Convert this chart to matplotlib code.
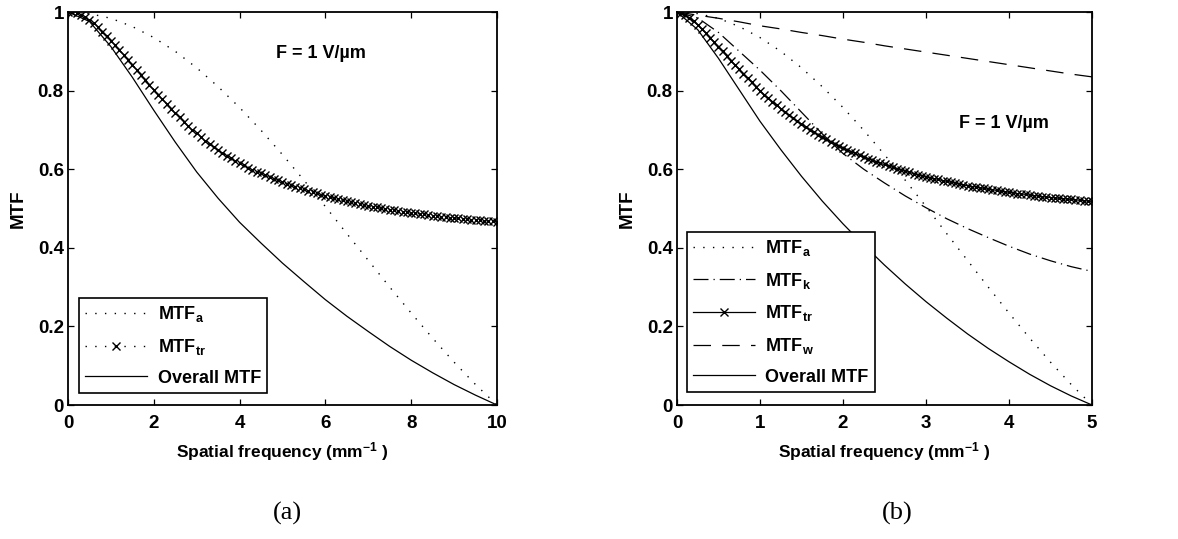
import numpy as np
import matplotlib
matplotlib.use("Agg")
import matplotlib.pyplot as plt

plt.rcParams['font.family'] = ['Liberation Sans', 'DejaVu Sans']
plt.rcParams['font.weight'] = 'bold'
plt.rcParams['axes.labelweight'] = 'bold'
plt.rcParams['mathtext.fontset'] = 'custom'
plt.rcParams['mathtext.rm'] = 'Liberation Sans:bold'
plt.rcParams['mathtext.it'] = 'Liberation Sans:bold'
plt.rcParams['mathtext.bf'] = 'Liberation Sans:bold'

# ---------------- panel (a): F = 1 V/um, 0..10 mm^-1 ----------------
freq_a_fine = np.linspace(0, 10, 101)
mtf_tr_a = [1.000, 0.999, 0.997, 0.993, 0.987, 0.980, 0.971, 0.961, 0.950, 0.938,
            0.927, 0.915, 0.903, 0.891, 0.879, 0.866, 0.853, 0.841, 0.828, 0.815,
            0.802, 0.790, 0.778, 0.766, 0.754, 0.743, 0.732, 0.721, 0.711, 0.701,
            0.691, 0.682, 0.673, 0.665, 0.656, 0.649, 0.641, 0.634, 0.628, 0.621,
            0.615, 0.610, 0.604, 0.599, 0.594, 0.590, 0.585, 0.580, 0.576, 0.572,
            0.567, 0.563, 0.560, 0.556, 0.553, 0.549, 0.545, 0.542, 0.539, 0.535,
            0.532, 0.529, 0.526, 0.524, 0.521, 0.519, 0.516, 0.514, 0.511, 0.509,
            0.507, 0.505, 0.503, 0.501, 0.499, 0.497, 0.496, 0.494, 0.492, 0.491,
            0.489, 0.488, 0.486, 0.485, 0.483, 0.482, 0.481, 0.479, 0.478, 0.477,
            0.476, 0.475, 0.474, 0.473, 0.472, 0.471, 0.470, 0.469, 0.468, 0.467, 0.466]

freq_a = np.linspace(0, 10, 21)
mtf_a_a = [1.000, 0.996, 0.984, 0.963, 0.935, 0.900, 0.858, 0.810, 0.757, 0.699,
           0.637, 0.572, 0.505, 0.436, 0.368, 0.300, 0.234, 0.170, 0.109, 0.052, 0.000]
overall_a = [1.000, 0.976, 0.912, 0.834, 0.750, 0.669, 0.593, 0.526, 0.465, 0.412,
             0.361, 0.314, 0.268, 0.226, 0.187, 0.149, 0.114, 0.082, 0.052, 0.025, 0.000]

# ---------------- panel (b): F = 1 V/um, 0..5 mm^-1 ----------------
freq_b_fine = np.linspace(0, 5, 101)
mtf_tr_b = [1.000, 0.997, 0.992, 0.985, 0.976, 0.967, 0.956, 0.946, 0.934, 0.923,
            0.911, 0.900, 0.888, 0.876, 0.865, 0.854, 0.842, 0.831, 0.821, 0.810,
            0.800, 0.790, 0.781, 0.772, 0.763, 0.754, 0.746, 0.737, 0.730, 0.722,
            0.715, 0.708, 0.701, 0.694, 0.688, 0.682, 0.676, 0.670, 0.665, 0.659,
            0.654, 0.649, 0.645, 0.640, 0.635, 0.631, 0.627, 0.623, 0.619, 0.615,
            0.612, 0.608, 0.605, 0.601, 0.598, 0.595, 0.592, 0.589, 0.586, 0.584,
            0.581, 0.578, 0.576, 0.574, 0.571, 0.569, 0.567, 0.565, 0.562, 0.560,
            0.558, 0.556, 0.555, 0.553, 0.551, 0.549, 0.548, 0.546, 0.544, 0.543,
            0.541, 0.540, 0.538, 0.537, 0.536, 0.534, 0.533, 0.532, 0.530, 0.529,
            0.528, 0.527, 0.526, 0.525, 0.524, 0.523, 0.522, 0.521, 0.520, 0.519, 0.518]

freq_b = np.linspace(0, 5, 21)
mtf_a_b = [1.000, 0.996, 0.984, 0.963, 0.935, 0.900, 0.858, 0.810, 0.757, 0.699,
           0.637, 0.572, 0.505, 0.436, 0.368, 0.300, 0.234, 0.170, 0.109, 0.052, 0.000]
mtf_k_b = [1.000, 0.985, 0.948, 0.900, 0.852, 0.800, 0.745, 0.690, 0.640, 0.600,
           0.565, 0.532, 0.502, 0.474, 0.449, 0.426, 0.404, 0.384, 0.367, 0.352, 0.340]
mtf_w_b = [1.000, 0.992, 0.984, 0.975, 0.965, 0.957, 0.948, 0.940, 0.931, 0.923,
           0.914, 0.906, 0.898, 0.890, 0.882, 0.874, 0.866, 0.858, 0.850, 0.842, 0.835]
overall_b = [1.000, 0.955, 0.882, 0.802, 0.722, 0.650, 0.582, 0.519, 0.461, 0.407,
             0.356, 0.308, 0.263, 0.221, 0.181, 0.144, 0.110, 0.078, 0.049, 0.023, 0.000]

annotation = 'F = 1 V/µm'
xlabel = 'Spatial frequency (mm$^{-1}$ )'
ylabel = 'MTF'

dotted = (0, (1, 6))
dashdot = (0, (12, 4, 1, 4))
dashed = (0, (14, 9))

fig = plt.figure(figsize=(11.78, 5.39), dpi=100)
ax1 = fig.add_axes([0.0577, 0.2486, 0.3642, 0.7291])
ax2 = fig.add_axes([0.5747, 0.2486, 0.3523, 0.7291])


def style_axes(ax, xmax, xticks):
    ax.set_xlim(0, xmax)
    ax.set_ylim(0, 1)
    ax.set_xticks(xticks)
    ax.set_yticks([0, 0.2, 0.4, 0.6, 0.8, 1])
    ax.set_xticklabels([f'{t:g}' for t in xticks])
    ax.set_yticklabels(['0', '0.2', '0.4', '0.6', '0.8', '1'])
    ax.tick_params(direction='in', top=True, right=True, length=4.5, width=0.9,
                   labelsize=13.5)
    ax.tick_params(axis='x', pad=7)
    ax.tick_params(axis='y', pad=3)
    for sp in ax.spines.values():
        sp.set_linewidth(1.3)
    ax.set_xlabel(xlabel, fontsize=12.5, labelpad=6, fontweight='bold')
    ax.set_ylabel(ylabel, fontsize=13.5, labelpad=8, fontweight='bold')


# panel (a)
ax1.plot(freq_a, mtf_a_a, color='black', lw=1.0, linestyle=dotted, label='MTF$_{\\rm a}$')
ax1.plot(freq_a_fine, mtf_tr_a, color='black', lw=1.0, linestyle=dotted, marker='x',
         markersize=5.5, markeredgewidth=1.0, label='MTF$_{\\rm tr}$')
ax1.plot(freq_a, overall_a, color='black', lw=0.9, label='Overall MTF')
style_axes(ax1, 10, [0, 2, 4, 6, 8, 10])
ax1.text(4.85, 0.895, annotation, fontsize=13, va='center', ha='left')
ax1.legend(loc='lower left', bbox_to_anchor=(0.026, 0.031), fontsize=13,
           fancybox=False, framealpha=1, edgecolor='black', handlelength=3.4,
           handletextpad=0.6, labelspacing=0.7, borderpad=0.35,
           borderaxespad=0).get_frame().set_linewidth(1.2)

# panel (b)
ax2.plot(freq_b, mtf_a_b, color='black', lw=1.0, linestyle=dotted, label='MTF$_{\\rm a}$')
ax2.plot(freq_b, mtf_k_b, color='black', lw=0.9, linestyle=dashdot, label='MTF$_{\\rm k}$')
ax2.plot(freq_b_fine, mtf_tr_b, color='black', lw=0.9, marker='x',
         markersize=5.5, markeredgewidth=1.0, label='MTF$_{\\rm tr}$')
ax2.plot(freq_b, mtf_w_b, color='black', lw=0.9, linestyle=dashed, label='MTF$_{\\rm w}$')
ax2.plot(freq_b, overall_b, color='black', lw=0.9, label='Overall MTF')
style_axes(ax2, 5, [0, 1, 2, 3, 4, 5])
ax2.text(3.4, 0.717, annotation, fontsize=13, va='center', ha='left')
ax2.legend(loc='lower left', bbox_to_anchor=(0.024, 0.033), fontsize=13,
           fancybox=False, framealpha=1, edgecolor='black', handlelength=3.4,
           handletextpad=0.6, labelspacing=0.7, borderpad=0.35,
           borderaxespad=0).get_frame().set_linewidth(1.2)

# captions
fig.text(287 / 1178, 1 - 513 / 539, '(a)', family='Liberation Serif', weight='normal',
         fontsize=19, ha='center', va='center')
fig.text(897 / 1178, 1 - 513 / 539, '(b)', family='Liberation Serif', weight='normal',
         fontsize=19, ha='center', va='center')

fig.savefig('out.png', dpi=100)
